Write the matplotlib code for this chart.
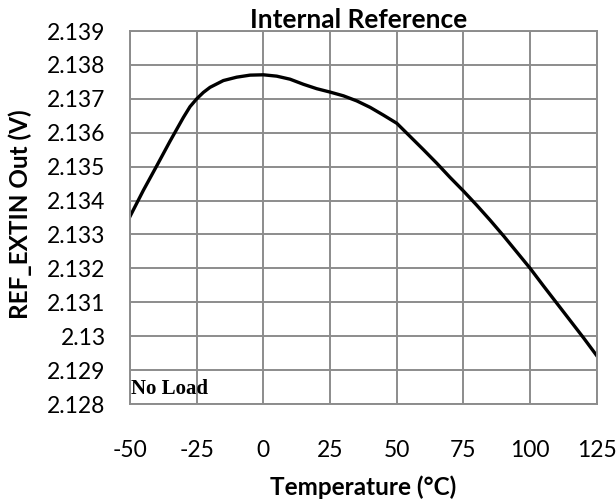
import matplotlib.pyplot as plt
import numpy as np

# REF_EXTIN output vs temperature, no load
temp_c = [-50, -45, -40, -35, -30, -27.5, -25, -22.5, -20, -15, -10, -5, 0, 5, 10,
          15, 20, 25, 30, 35, 40, 45, 50, 55, 60, 65, 70, 75, 80, 85, 90, 95, 100,
          105, 110, 115, 120, 125]
ref_v = [2.13353, 2.13430, 2.13502, 2.13575, 2.13645, 2.13677, 2.13700, 2.13719,
         2.13734, 2.13754, 2.13764, 2.13770, 2.13771, 2.13767, 2.13758, 2.13743,
         2.13730, 2.13720, 2.13709, 2.13694, 2.13675, 2.13652, 2.13628, 2.13589,
         2.13550, 2.13510, 2.13468, 2.13428, 2.13386, 2.13342, 2.13296, 2.13248,
         2.13200, 2.13148, 2.13097, 2.13046, 2.12995, 2.12942]

x_ticks = [-50, -25, 0, 25, 50, 75, 100, 125]
y_ticks = [2.128, 2.129, 2.13, 2.131, 2.132, 2.133, 2.134, 2.135, 2.136, 2.137, 2.138, 2.139]
y_labels = ['2.128', '2.129', '2.13', '2.131', '2.132', '2.133', '2.134', '2.135',
            '2.136', '2.137', '2.138', '2.139']

plt.rcParams['font.family'] = ['Lato', 'DejaVu Sans']
plt.rcParams['axes.unicode_minus'] = False

fig = plt.figure(figsize=(6.16, 5.01), dpi=100)
ax = fig.add_axes([0.211, 0.1936, 0.758, 0.7444])

ax.plot(temp_c, ref_v, color='black', linewidth=2.4, solid_joinstyle='round')

ax.set_xlim(-50, 125)
ax.set_ylim(2.128, 2.139)
ax.set_xticks(x_ticks)
ax.set_yticks(y_ticks)
ax.set_yticklabels(y_labels)
ax.tick_params(axis='both', length=0, labelsize=16.5, colors='black')
ax.tick_params(axis='x', pad=26)
ax.tick_params(axis='y', pad=17.5)

ax.grid(True, color='#8c8c8c', linewidth=1.4)
ax.set_axisbelow(True)
for sp in ax.spines.values():
    sp.set_color('#8c8c8c')
    sp.set_linewidth(1.4)

ax.set_xlabel('Temperature (°C)', fontsize=17.5, fontweight='bold', va='center')
ax.xaxis.set_label_coords(0.5, -0.2225)
ax.set_ylabel('REF_EXTIN Out (V)', fontsize=17.5, fontweight='bold', va='center')
ax.yaxis.set_label_coords(-0.235, 0.51)
fig.text(0.582, 0.961, 'Internal Reference', ha='center', va='center',
         fontsize=19, fontweight='bold')

ax.text(-49.8, 2.12845, 'No Load', family='Liberation Serif', fontweight='bold',
        fontsize=15, ha='left', va='center')

fig.savefig('out.png', dpi=100)
